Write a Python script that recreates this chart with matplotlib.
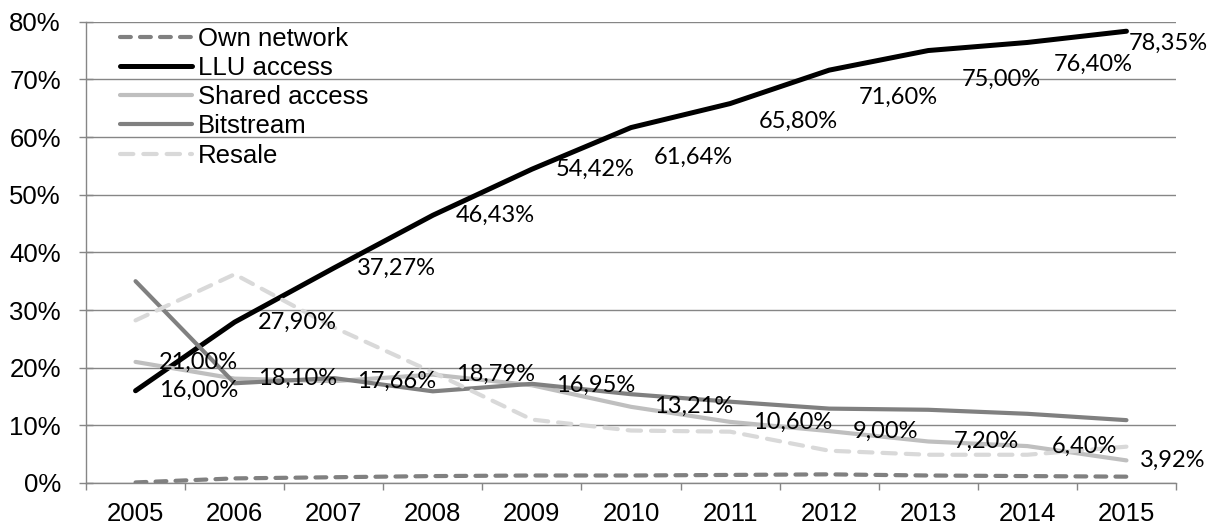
import matplotlib
matplotlib.use("Agg")
import matplotlib.pyplot as plt
from matplotlib.ticker import FixedLocator, PercentFormatter

years = ["2005", "2006", "2007", "2008", "2009", "2010",
         "2011", "2012", "2013", "2014", "2015"]

own_network = [0.1, 0.8, 1.0, 1.2, 1.3, 1.3, 1.4, 1.5, 1.3, 1.2, 1.1]
llu_access = [16.00, 27.90, 37.27, 46.43, 54.42, 61.64, 65.80, 71.60, 75.00, 76.40, 78.35]
shared_access = [21.00, 18.10, 17.66, 18.79, 16.95, 13.21, 10.60, 9.00, 7.20, 6.40, 3.92]
bitstream = [35.0, 17.3, 18.2, 15.9, 17.2, 15.4, 14.1, 12.9, 12.7, 12.0, 10.9]
resale = [28.2, 36.2, 27.0, 19.2, 11.0, 9.1, 8.9, 5.6, 4.9, 4.9, 6.3]

# label offsets in pixels (right, down)
llu_dx = [23, 23, 23, 23, 24, 23, 29, 30, 33, 26, 2]
llu_dy = [0, 0, 0, 0, 0, 30, 18, 27, 29, 22, 12]
shared_dx = [23, 23, 23, 23, 24, 23, 23, 24, 25, 24, 13]
shared_dy = [0] * 11

plt.rcParams["font.family"] = ["Liberation Sans", "DejaVu Sans"]

fig = plt.figure(figsize=(12.15, 5.28), dpi=100)
ax = fig.add_axes([86 / 1215, 1 - 483 / 528, 1090 / 1215, (483 - 21.7) / 528])

x = list(range(len(years)))
gray = "#868686"

ax.plot(x, own_network, color="#808080", lw=3.0, dashes=(2.6, 2.2),
        dash_capstyle="round", solid_capstyle="round", label="Own network", zorder=3)
ax.plot(x, llu_access, color="black", lw=3.6, solid_capstyle="round",
        label="LLU access", zorder=4)
ax.plot(x, shared_access, color="#bfbfbf", lw=3.0, solid_capstyle="round",
        label="Shared access", zorder=5)
ax.plot(x, bitstream, color="#808080", lw=3.0, solid_capstyle="round",
        label="Bitstream", zorder=6)
ax.plot(x, resale, color="#d9d9d9", lw=3.0, dashes=(3.2, 2.4),
        dash_capstyle="round", label="Resale", zorder=7)

# data labels
for xi, v, dx, dy in zip(x, llu_access, llu_dx, llu_dy):
    ax.annotate(f"{v:.2f}%".replace(".", ","), (xi, v), xytext=(dx * 0.72, -dy * 0.72),
                textcoords="offset points", ha="left", va="center",
                fontsize=17, family="Lato", zorder=10)
for xi, v, dx, dy in zip(x, shared_access, shared_dx, shared_dy):
    ax.annotate(f"{v:.2f}%".replace(".", ","), (xi, v), xytext=(dx * 0.72, -dy * 0.72),
                textcoords="offset points", ha="left", va="center",
                fontsize=17, family="Lato", zorder=10)

ax.set_xlim(-0.5, len(years) - 0.5)
ax.set_ylim(0, 80)
ax.yaxis.set_major_locator(FixedLocator(range(0, 81, 10)))
ax.yaxis.set_major_formatter(PercentFormatter(decimals=0))
ax.grid(axis="y", color=gray, lw=1.0)
ax.set_axisbelow(True)

# category axis: ticks between categories, labels at centres
ax.set_xticks([i - 0.5 for i in range(len(years) + 1)])
ax.set_xticklabels([])
ax.set_xticks(x, minor=True)
ax.set_xticklabels(years, minor=True)
ax.tick_params(axis="x", which="major", direction="out", length=5, color=gray, width=1)
ax.tick_params(axis="x", which="minor", length=0, pad=14, labelsize=18.5)
ax.tick_params(axis="y", direction="inout", length=10, color=gray, width=1,
               pad=13, labelsize=18.5)

for side in ["top", "right"]:
    ax.spines[side].set_visible(False)
for side in ["left", "bottom"]:
    ax.spines[side].set_color(gray)
    ax.spines[side].set_linewidth(1.0)

ax.legend(loc="upper left", bbox_to_anchor=(120 / 1215, 1 - 27 / 528),
          bbox_transform=fig.transFigure, frameon=False, fontsize=18.5,
          handlelength=2.8, handletextpad=0.25, labelspacing=0.2,
          borderpad=0, borderaxespad=0)

plt.savefig("out.png", dpi=100)
